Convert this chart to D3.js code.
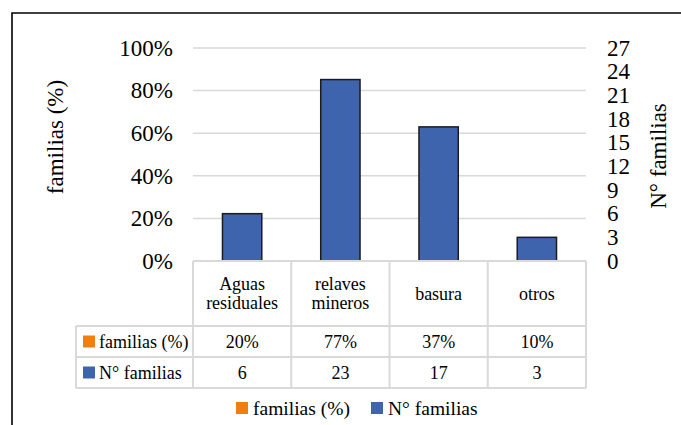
<!DOCTYPE html>
<html>
<head>
<meta charset="utf-8">
<script src="https://cdn.jsdelivr.net/npm/d3@7"></script>
<style>
  body { margin: 0; background: #fff; }
  svg { display: block; }
  svg text { font-family: 'Liberation Serif', 'Times New Roman', Times, 'DejaVu Serif', serif; }
</style>
</head>
<body>
<div id="chart"></div>
<script>
// data
var categories = ["Aguas residuales", "relaves mineros", "basura", "otros"];
var pctValues = [0.20, 0.77, 0.37, 0.10];     // familias (%)
var countValues = [6, 23, 17, 3];             // N° familias
var leftTicks = [0, 0.2, 0.4, 0.6, 0.8, 1.0];
var rightTicks = [0, 3, 6, 9, 12, 15, 18, 21, 24, 27];
var seriesNames = ["familias (%)", "N° familias"];
var seriesColors = ["#F07F0F", "#3E64AD"];

var W = 681, H = 425;
var plot = {left: 193, right: 586, top: 48, bottom: 261};

var svg = d3.select("#chart").append("svg")
  .attr("width", W)
  .attr("height", H)
  .attr("font-family", "Liberation Serif, Times New Roman, serif");

// outer frame (right and bottom edges fall outside the picture)
svg.append("path")
  .attr("d", "M12,425 L12,13 L681,13")
  .attr("fill", "none")
  .attr("stroke", "#000")
  .attr("stroke-width", 1.6);

var x = d3.scaleBand()
  .domain(categories)
  .range([plot.left, plot.right])
  .paddingInner(0);

var yl = d3.scaleLinear().domain([0, 1]).range([plot.bottom, plot.top]);
var yr = d3.scaleLinear().domain([0, 27]).range([plot.bottom, plot.top]);

// gridlines
svg.append("g")
  .selectAll("line")
  .data(leftTicks.slice(1))
  .enter().append("line")
    .attr("x1", plot.left)
    .attr("x2", plot.right)
    .attr("y1", d => yl(d))
    .attr("y2", d => yl(d))
    .attr("stroke", "#d9d9d9")
    .attr("stroke-width", 1.5);

// left axis labels
svg.append("g")
  .attr("font-size", 23)
  .attr("text-anchor", "end")
  .selectAll("text")
  .data(leftTicks)
  .enter().append("text")
    .attr("x", 173)
    .attr("y", d => yl(d))
    .attr("dy", "0.34em")
    .text(d => d3.format(".0%")(d));

// right axis labels
svg.append("g")
  .attr("font-size", 23)
  .attr("text-anchor", "start")
  .selectAll("text")
  .data(rightTicks)
  .enter().append("text")
    .attr("x", 607)
    .attr("y", d => yr(d))
    .attr("dy", "0.34em")
    .text(d => d);

// axis titles
svg.append("text")
  .attr("transform", "translate(63,137) rotate(-90)")
  .attr("text-anchor", "middle")
  .attr("font-size", 23)
  .text("familias (%)");

svg.append("text")
  .attr("transform", "translate(666,156) rotate(-90)")
  .attr("text-anchor", "middle")
  .attr("font-size", 23)
  .text("N° familias");

// bars (N° familias on right axis)
var barW = x.bandwidth() * 0.4;
svg.append("g")
  .selectAll("rect")
  .data(countValues)
  .enter().append("rect")
    .attr("x", (d, i) => x(categories[i]) + (x.bandwidth() - barW) / 2)
    .attr("y", d => yr(d))
    .attr("width", barW)
    .attr("height", d => plot.bottom - yr(d))
    .attr("fill", seriesColors[1])
    .attr("stroke", "#1c1c1c")
    .attr("stroke-width", 1.5);

// data table
var tbl = {legendLeft: 76, headBottom: 326, row1Bottom: 357, row2Bottom: 388};
var grid = svg.append("g")
  .attr("stroke", "#d9d9d9")
  .attr("stroke-width", 2)
  .attr("fill", "none");

// horizontal lines
[[plot.left, plot.bottom], [tbl.legendLeft, tbl.headBottom], [tbl.legendLeft, tbl.row1Bottom], [tbl.legendLeft, tbl.row2Bottom]]
  .forEach(function(l){
    grid.append("line")
      .attr("x1", l[0]).attr("x2", plot.right)
      .attr("y1", l[1]).attr("y2", l[1]);
  });

// vertical lines
categories.forEach(function(c){
  grid.append("line")
    .attr("x1", x(c)).attr("x2", x(c))
    .attr("y1", plot.bottom).attr("y2", tbl.row2Bottom);
});
grid.append("line")
  .attr("x1", plot.right).attr("x2", plot.right)
  .attr("y1", plot.bottom).attr("y2", tbl.row2Bottom);
grid.append("line")
  .attr("x1", tbl.legendLeft).attr("x2", tbl.legendLeft)
  .attr("y1", tbl.headBottom).attr("y2", tbl.row2Bottom);

// category headers
var head = svg.append("g")
  .attr("font-size", 18)
  .attr("text-anchor", "middle");
categories.forEach(function(c){
  var words = c.split(" ");
  var cy = (plot.bottom + tbl.headBottom) / 2;
  var lh = 19;
  words.forEach(function(w, j){
    head.append("text")
      .attr("x", x(c) + x.bandwidth() / 2)
      .attr("y", cy + (j - (words.length - 1) / 2) * lh)
      .attr("dy", "0.34em")
      .text(w);
  });
});

// table rows
var rows = [
  {name: seriesNames[0], color: seriesColors[0], vals: pctValues.map(d3.format(".0%")), top: tbl.headBottom, bottom: tbl.row1Bottom},
  {name: seriesNames[1], color: seriesColors[1], vals: countValues.map(String), top: tbl.row1Bottom, bottom: tbl.row2Bottom}
];
rows.forEach(function(r){
  var cy = (r.top + r.bottom) / 2;
  svg.append("rect")
    .attr("x", 83).attr("y", cy - 6)
    .attr("width", 12).attr("height", 12)
    .attr("fill", r.color);
  svg.append("text")
    .attr("x", 99).attr("y", cy)
    .attr("dy", "0.34em")
    .attr("font-size", 18)
    .text(r.name);
  r.vals.forEach(function(v, i){
    svg.append("text")
      .attr("x", x(categories[i]) + x.bandwidth() / 2)
      .attr("y", cy)
      .attr("dy", "0.34em")
      .attr("text-anchor", "middle")
      .attr("font-size", 18)
      .text(v);
  });
});

// legend
var legendX = [236, 371];
var legend = svg.append("g")
  .selectAll("g")
  .data(seriesNames)
  .enter().append("g")
    .attr("transform", (d, i) => "translate(" + legendX[i] + ",408)");
legend.append("rect")
  .attr("x", 0).attr("y", -6)
  .attr("width", 12).attr("height", 12)
  .attr("fill", (d, i) => seriesColors[i]);
legend.append("text")
  .attr("x", 17)
  .attr("dy", "0.34em")
  .attr("font-size", 19.5)
  .text(d => d);
</script>
</body>
</html>
